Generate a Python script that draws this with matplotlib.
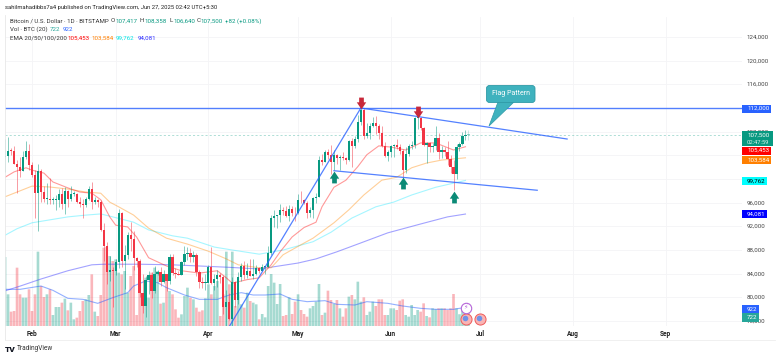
import numpy as np
import matplotlib
matplotlib.use('Agg')
import matplotlib.pyplot as plt
from matplotlib.patches import FancyBboxPatch, Polygon, Rectangle
from matplotlib.path import Path

plt.rcParams['font.family'] = ['Roboto', 'DejaVu Sans']

# daily candles, thousands of USD, Jan 23 -> Jun 26 2025 (first_day = days from Feb 1)
first_day = -9

opens = [103.7, 103.9, 104.8, 104.7, 102.6, 102.0, 101.3, 103.7, 104.7,
         102.4, 100.6, 97.7, 101.4, 97.8, 96.6, 96.6, 96.5, 96.5, 96.5, 97.4, 95.8, 97.9, 96.6,
         97.5, 97.5, 96.1, 95.8, 95.6, 96.6, 98.3, 96.1, 96.5, 96.1, 91.4, 88.7, 84.3, 84.7,
         84.4, 86.0, 94.2, 86.1, 87.2, 90.6, 89.9, 86.7, 86.1, 80.7, 78.5, 82.9, 83.7, 81.1, 83.9,
         84.3, 82.6, 84.0, 82.7, 86.8, 84.2, 84.0, 83.8, 86.0, 87.3, 87.5, 86.9, 87.2, 84.3, 82.6, 82.4,
         82.5, 85.2, 82.5, 83.1, 83.8, 83.5, 78.4, 79.2, 76.3, 82.6, 79.6, 83.4, 85.3, 83.7, 84.5,
         83.6, 84.0, 84.9, 84.5, 85.1, 85.2, 87.5, 93.4, 93.7, 93.9, 94.7, 94.6, 93.8, 94.9, 94.3,
         94.2, 96.5, 96.4, 95.9, 94.3, 94.7, 96.8, 97.0, 103.2, 102.9, 104.6, 104.1, 102.8, 104.1, 103.5,
         103.7, 103.5, 103.2, 106.4, 105.6, 106.8, 109.6, 111.7, 107.3, 107.8, 109.0, 109.4, 109.0, 107.8, 105.6, 103.9,
         104.6, 105.6, 105.8, 105.4, 104.7, 101.5, 104.3, 105.6, 105.7, 110.3, 110.3, 108.6, 105.7, 106.1,
         105.4, 105.5, 106.9, 104.6, 104.9, 104.6, 103.3, 102.1, 100.9, 105.4, 106.0, 107.3, 107.417]
highs = [106.8, 107.1, 105.3, 105.5, 103.2, 103.7, 104.8, 106.4, 106.0,
         102.8, 101.5, 102.5, 101.7, 98.8, 99.3, 100.2, 96.9, 97.3, 98.3, 98.5, 98.7, 98.1, 98.8,
         97.9, 97.7, 97.0, 96.7, 97.0, 98.8, 99.5, 96.9, 96.7, 96.5, 92.5, 89.3, 87.0, 85.1,
         86.5, 95.0, 94.4, 88.9, 91.0, 92.8, 91.2, 86.8, 86.5, 84.0, 83.6, 84.4, 84.3, 85.3, 84.7,
         85.1, 84.7, 84.0, 87.4, 87.4, 85.0, 84.5, 86.1, 88.7, 88.5, 88.3, 87.9, 87.5, 84.6, 83.5, 83.9,
         85.5, 88.5, 83.9, 84.7, 84.2, 83.8, 81.2, 80.8, 83.5, 82.7, 84.3, 85.8, 86.1, 85.8, 86.5,
         86.4, 85.5, 85.1, 85.6, 85.3, 88.6, 93.9, 94.7, 94.0, 95.7, 95.3, 95.4, 95.6, 95.4, 95.2,
         97.4, 97.9, 96.6, 96.3, 95.2, 96.9, 97.7, 103.9, 104.3, 104.9, 105.0, 105.7, 104.9, 104.3, 104.0,
         104.5, 103.7, 106.6, 107.0, 107.3, 110.8, 112.0, 112.0, 109.5, 109.4, 110.4, 110.7, 109.3, 108.9, 106.3, 104.9,
         105.8, 105.9, 106.8, 106.0, 105.0, 105.4, 105.9, 106.4, 110.4, 110.5, 110.4, 108.8, 106.2, 106.2,
         106.1, 108.9, 107.7, 105.6, 105.4, 106.5, 104.0, 103.2, 106.0, 106.3, 108.0, 108.3, 108.358]
lows = [101.2, 102.8, 104.1, 102.5, 97.7, 100.3, 101.3, 103.3, 101.6,
        100.3, 93.4, 91.2, 96.2, 96.2, 95.7, 95.7, 95.7, 94.7, 95.3, 94.9, 94.1, 95.2, 96.3,
        97.2, 96.0, 95.2, 93.4, 95.2, 96.4, 94.9, 95.7, 95.3, 91.2, 86.1, 82.3, 82.8, 78.3,
        83.8, 85.0, 85.2, 81.4, 86.5, 87.8, 84.7, 85.2, 80.0, 77.4, 76.6, 80.6, 79.9, 80.8, 83.7,
        81.9, 82.5, 81.1, 82.3, 83.7, 83.2, 83.7, 83.7, 85.5, 86.3, 85.9, 85.9, 83.6, 81.6, 81.6, 81.3,
        82.4, 82.3, 81.2, 81.7, 82.4, 77.2, 74.5, 76.2, 74.7, 78.4, 78.9, 82.8, 83.1, 83.2, 83.6,
        83.1, 83.7, 84.1, 84.4, 83.9, 85.1, 87.1, 91.9, 91.7, 92.8, 93.9, 93.6, 92.9, 93.8, 92.9,
        94.1, 96.0, 95.7, 93.4, 93.5, 93.4, 95.9, 97.0, 102.3, 102.8, 103.4, 100.8, 101.5, 102.6, 101.5,
        103.2, 102.6, 103.1, 102.0, 105.2, 106.2, 109.2, 106.8, 106.9, 106.7, 108.8, 107.6, 106.8, 105.4, 103.7, 103.1,
        103.8, 103.7, 105.1, 104.2, 100.4, 101.1, 103.9, 105.1, 105.3, 108.4, 108.2, 105.6, 102.7, 104.5,
        104.5, 104.9, 103.4, 103.5, 103.9, 102.4, 101.0, 98.2, 100.0, 104.7, 105.8, 106.6, 106.64]
closes = [103.9, 104.8, 104.7, 102.6, 102.0, 101.3, 103.7, 104.7, 102.4,
          100.6, 97.7, 101.4, 97.8, 96.6, 96.6, 96.5, 96.5, 96.5, 97.4, 95.8, 97.9, 96.6, 97.5,
          97.5, 96.1, 95.8, 95.6, 96.6, 98.3, 96.1, 96.5, 96.1, 91.4, 88.7, 84.3, 84.7, 84.4,
          86.0, 94.2, 86.1, 87.2, 90.6, 89.9, 86.7, 86.1, 80.7, 78.5, 82.9, 83.7, 81.1, 83.9, 84.3,
          82.6, 84.0, 82.7, 86.8, 84.2, 84.0, 83.8, 86.0, 87.3, 87.5, 86.9, 87.2, 84.3, 82.6, 82.4, 82.5,
          85.2, 82.5, 83.1, 83.8, 83.5, 78.4, 79.2, 76.3, 82.6, 79.6, 83.4, 85.3, 83.7, 84.5, 83.6,
          84.0, 84.9, 84.5, 85.1, 85.2, 87.5, 93.4, 93.7, 93.9, 94.7, 94.6, 93.8, 94.9, 94.3, 94.2,
          96.5, 96.4, 95.9, 94.3, 94.7, 96.8, 97.0, 103.2, 102.9, 104.6, 104.1, 102.8, 104.1, 103.5, 103.7,
          103.5, 103.2, 106.4, 105.6, 106.8, 109.6, 111.7, 107.3, 107.8, 109.0, 109.4, 109.0, 107.8, 105.6, 103.9, 104.6,
          105.6, 105.8, 105.4, 104.7, 101.5, 104.3, 105.6, 105.7, 110.3, 110.3, 108.6, 105.7, 106.1, 105.4,
          105.5, 106.9, 104.6, 104.9, 104.6, 103.3, 102.1, 100.9, 105.4, 106.0, 107.3, 107.417, 107.5]
volumes = [3519, 1615, 731, 765, 2975, 1615, 1445, 1445, 1870,
           765, 1615, 3791, 2040, 1479, 1615, 1870, 561, 969, 969, 1190, 1394, 799, 1190,
           340, 425, 765, 1275, 1360, 1581, 2635, 731, 510, 1581, 3995, 4029, 3570, 3315,
           3400, 2720, 2635, 2805, 1700, 2550, 3060, 561, 2805, 1020, 2465, 1445, 2720, 2975, 2805,
           1139, 1190, 2550, 1785, 1615, 850, 425, 595, 1530, 1955, 1445, 1360, 935, 731, 799, 1411,
           2125, 1615, 2040, 2295, 510, 1615, 3791, 2125, 3791, 1020, 1615, 1105, 935, 1700, 1275,
           1190, 1105, 340, 612, 442, 2040, 2652, 2210, 1122, 2142, 510, 561, 1462, 612, 1241,
           1615, 816, 612, 476, 901, 1020, 1241, 2142, 561, 680, 1802, 1326, 1122, 1326, 901,
           476, 901, 1496, 1581, 1360, 2261, 1241, 1462, 561, 731, 1241, 1020, 1360, 1360, 561, 561,
           901, 901, 816, 1292, 1360, 561, 476, 1071, 561, 816, 731, 1156, 510, 442,
           901, 850, 901, 901, 901, 816, 901, 1632, 901, 600, 900, 800, 722]

# moving averages, days counted from Feb 1
ema20_days = [-9, -6, -2, 0, 4, 7, 12, 16, 20, 23, 26, 28, 32, 35, 39, 45, 50, 56, 62, 65, 67, 72, 76,
              80, 83, 87, 91, 95, 97, 101, 105, 109, 112, 116, 120, 125, 130, 135, 141, 145]
ema20 = [100.3, 101.2, 101.9, 101.5, 101.0, 99.5, 98.5, 97.8, 97.6, 96.5, 93.6, 92.2, 91.9, 90.2, 86.7,
         85.3, 84.5, 84.1, 84.5, 83.3, 82.4, 83.0, 83.3, 85.5, 87.7, 90.2, 91.8, 92.7, 95.3, 98.6, 99.8,
         102.1, 104.1, 105.6, 105.4, 104.9, 106.1, 106.1, 104.9, 105.453]
ema50_days = [-9, -5, 0, 6, 12, 18, 23, 26, 29, 34, 39, 45, 52, 59, 65, 69, 76, 80, 84, 90, 94, 101, 106,
              111, 117, 122, 127, 132, 137, 145]
ema50 = [97.0, 97.8, 98.8, 98.65, 98.3, 97.8, 97.6, 96.1, 95.3, 93.9, 91.7, 90.0, 89.0, 87.8, 86.5, 85.5,
         85.0, 85.0, 87.2, 88.9, 90.0, 92.6, 94.8, 97.3, 99.8, 100.3, 101.9, 102.7, 103.2, 103.584]
ema100_days = [-9, -5, 0, 6, 12, 18, 23, 27, 34, 39, 47, 52, 61, 67, 76, 84, 94, 100, 107, 115, 121, 127,
               135, 145]
ema100 = [90.5, 91.6, 92.6, 93.1, 93.6, 93.9, 94.1, 93.6, 92.7, 91.4, 90.4, 90.0, 88.5, 88.0, 87.3, 88.0,
          89.4, 91.0, 93.4, 95.3, 96.1, 97.3, 98.6, 99.762]
ema200_days = [-9, -4, 3, 12, 20, 24, 36, 47, 56, 65, 76, 80, 89, 95, 102, 110, 119, 130, 139, 145]
ema200 = [81.1, 81.9, 83.1, 84.5, 85.5, 85.6, 85.6, 85.5, 85.3, 85.1, 84.8, 85.1, 85.8, 86.5, 87.7, 89.2,
          90.9, 92.4, 93.6, 94.081]
vol_ma_days = [-9, -4, 3, 7, 12, 17, 22, 27, 32, 34, 38, 42, 45, 51, 56, 62, 66, 70, 74, 78, 83, 87, 92,
               98, 102, 108, 112, 119, 124, 130, 135, 141, 143, 145]
vol_ma = [1870, 1870, 2040, 1819, 1411, 1360, 1156, 1445, 1700, 2040, 2295, 2210, 1955, 1581, 1360, 1360,
          1581, 1700, 1581, 1581, 1632, 1360, 1241, 1292, 1105, 1071, 1241, 1156, 1020, 901, 850, 850, 901, 922]

# drawn trend lines (day, price)
rally_x, rally_y = [66.1, 110], [75.16, 112.0]
flag_top_x, flag_top_y = [110, 179], [112.0, 106.76]
flag_bottom_x, flag_bottom_y = [101, 169], [101.4, 98.1]
resistance = 112.0

red_arrow_x, red_arrow_y = [110, 129], [112.9, 111.3]
green_arrow_x, green_arrow_y = [101, 124, 141], [100.3, 99.3, 97.0]

month_days = [0, 28, 59, 89, 120, 150, 181, 212]
month_labels = ['Feb', 'Mar', 'Apr', 'May', 'Jun', 'Jul', 'Aug', 'Sep']
price_ticks = [76, 80, 84, 88, 92, 96, 108, 116, 120, 124]
grid_prices = [76, 80, 84, 88, 92, 96, 100, 104, 108, 112, 116, 120, 124]

UP = '#089981'
DOWN = '#f23645'
LINE_BLUE = '#2962ff'
W, H = 780, 358
TXT = 4.4


def px(x, y):
    return x / W, 1 - y / H


fig = plt.figure(figsize=(W / 100, H / 100), dpi=100)
ax = fig.add_axes([5 / W, 1 - 326 / H, 737 / W, 309 / H])
ax.set_xlim(-9.03, 237.5)
ax.set_ylim(75.16, 127.38)

days = np.arange(len(closes)) + first_day
o, h, l, c = map(np.array, (opens, highs, lows, closes))
colors = np.where(c >= o, UP, DOWN)

# volume is scaled into the price pane, 51 BTC per pixel
vol_scale = 0.169 / 51
vol_bars = ax.bar(days, np.array(volumes) * vol_scale, bottom=75.16, width=0.88, color=colors, alpha=0.36,
                  zorder=2, lw=0)
for b in vol_bars:
    b.set_snap(False)
ax.plot(vol_ma_days, np.array(vol_ma) * vol_scale + 75.16, color=LINE_BLUE, lw=0.8, alpha=0.5, zorder=3)

ax.plot(ema200_days, ema200, color='#3333ff', lw=0.8, alpha=0.45, zorder=3)
ax.plot(ema100_days, ema100, color='#00e5ff', lw=0.8, alpha=0.35, zorder=3)
ax.plot(ema50_days, ema50, color='#ff8800', lw=0.8, alpha=0.4, zorder=3)
ax.plot(ema20_days, ema20, color='#ff0000', lw=0.8, alpha=0.4, zorder=3)

# last candle is still forming and shows lighter
alpha = np.ones(len(c))
alpha[-1] = 0.4
for d, op, hi, lo, cl, col, al in zip(days, o, h, l, c, colors, alpha):
    ax.vlines(d, lo, hi, color=col, lw=0.7, alpha=0.5 * al, zorder=4)
    ax.bar(d, max(abs(cl - op), 0.12), bottom=min(op, cl), width=0.75, color=col, alpha=al, lw=0, zorder=5)

ax.plot(rally_x, rally_y, color=LINE_BLUE, lw=0.9, alpha=0.8, zorder=6)
ax.plot(flag_top_x, flag_top_y, color=LINE_BLUE, lw=0.9, alpha=0.8, zorder=6)
ax.plot(flag_bottom_x, flag_bottom_y, color=LINE_BLUE, lw=0.9, alpha=0.8, zorder=6)
ax.axhline(resistance, color=LINE_BLUE, lw=1.0, alpha=0.8, zorder=6)
ax.axhline(closes[-1], color=UP, lw=0.5, ls=(0, (3, 3)), alpha=0.45, zorder=1)

# block arrows
down_arrow = Path([(-0.4, 1), (0.4, 1), (0.4, 0.2), (0.8, 0.2), (0, -1), (-0.8, 0.2), (-0.4, 0.2), (-0.4, 1)], closed=True)
up_arrow = Path([(-0.4, -1), (0.4, -1), (0.4, -0.2), (0.8, -0.2), (0, 1), (-0.8, -0.2), (-0.4, -0.2), (-0.4, -1)], closed=True)
ax.plot(red_arrow_x, red_arrow_y, ls='', marker=down_arrow, ms=8.5, color='#c8283a', mew=0, zorder=8)
ax.plot(green_arrow_x, green_arrow_y, ls='', marker=up_arrow, ms=8.5, color='#0b8a76', mew=0, zorder=8)

# axes look
for s in ax.spines.values():
    s.set_visible(False)
ax.set_yticks(grid_prices)
ax.set_yticklabels([])
ax.set_xticks(month_days)
ax.set_xticklabels(month_labels, fontsize=TXT + 0.3, color='#222222', fontweight='bold')
ax.tick_params(length=0, pad=2.8)
ax.yaxis.set_ticks_position('right')
ax.grid(True, color='#f4f4f6', lw=0.6, zorder=0)
ax.set_axisbelow(True)

# pane border
fig.add_artist(plt.Line2D([5 / W, 5 / W], [1 - 340 / H, 1 - 15 / H], color='#e8e8e8', lw=0.6))
fig.add_artist(plt.Line2D([5 / W, 775 / W], [1 - 340 / H, 1 - 340 / H], color='#eeeeee', lw=0.6))

# price axis labels
ytrans = ax.get_yaxis_transform()
for p in price_ticks:
    ax.text((746.5 - 5) / 737, p, f'{p},000', transform=ytrans, fontsize=TXT, color='#444444',
            va='center', ha='left', clip_on=False, zorder=9)

# value tags, pushed apart on the axis as in the source: centre y px, label, fill, text, right edge
tags = [(108.5, '112,000', LINE_BLUE, 'white', 771),
        (150.5, '105,453', '#ff0000', 'white', 771),
        (159.7, '103,584', '#ff7f00', 'white', 771),
        (181, '99,762', '#00ffff', 'black', 767),
        (214, '94,081', '#0000ff', 'white', 767)]
for ypx, label, bg, fg, right in tags:
    x0, y0 = px(742, ypx + 4)
    fig.add_artist(Rectangle((x0, y0), (right - 742) / W, 8 / H, transform=fig.transFigure, color=bg, lw=0, zorder=10))
    fig.text(747 / W, 1 - ypx / H, label, color=fg, fontsize=TXT, va='center', zorder=11)

# current price tag
x0, y0 = px(742, 146)
fig.add_artist(Rectangle((x0, y0), 31 / W, 15 / H, transform=fig.transFigure, color=UP, lw=0, zorder=10))
fig.text(747 / W, 1 - 134.7 / H, '107,500', color='white', fontsize=TXT, va='center', zorder=11)
fig.text(747 / W, 1 - 142.2 / H, '02:47:59', color='#d5efe9', fontsize=TXT - 0.2, va='center', zorder=11)

# volume tags
for top, label, bg in [(305, '922', LINE_BLUE), (313.3, '722', '#26a69a')]:
    x0, y0 = px(742, top + 8.4)
    fig.add_artist(Rectangle((x0, y0), 16.7 / W, 8.4 / H, transform=fig.transFigure, color=bg, lw=0, zorder=10))
    fig.text(746.5 / W, 1 - (top + 4.2) / H, label, color='white', fontsize=TXT, va='center', zorder=11)

# callout
box = FancyBboxPatch(px(486.5, 102.5), 48.5 / W, 17 / H, boxstyle='round,pad=0,rounding_size=0.004',
                     transform=fig.transFigure, fc='#3fb2be', ec='#2f9aa6', lw=0.6, zorder=12, mutation_aspect=2)
fig.add_artist(box)
tail = Polygon([px(498, 102), px(514, 102), px(489, 126)], closed=True, transform=fig.transFigure,
               fc='#3fb2be', ec='#2f9aa6', lw=0.5, zorder=11)
fig.add_artist(tail)
fig.text(510.5 / W, 1 - 93.5 / H, 'Flag Pattern', color='white', fontsize=5, ha='center', va='center', zorder=13)

# event icons near the last bar
for ix, iy in [(466, 319), (480, 319)]:
    ax.plot((ix - 32) / 2.99, 124 - (iy - 37) * 0.169, marker='o', ms=8, mfc='#f9b4b4', mec='#ee5a5a',
            mew=0.7, zorder=7, clip_on=False)
    ax.plot((ix - 33) / 2.99, 124 - (iy - 38.5) * 0.169, marker='o', ms=4, mfc='#6d93e8', mew=0, zorder=7)
ax.plot((466 - 32) / 2.99, 124 - (307.5 - 37) * 0.169, marker='o', ms=7.5, mfc='white', mec='#b565d8', mew=0.8, zorder=7)
ax.text((466 - 32) / 2.99, 124 - (307.5 - 37) * 0.169, '⚡', fontsize=4.5, color='#b565d8', ha='center', va='center',
        family='DejaVu Sans', zorder=8)

# header
HEAD = '#333333'
fig.text(5 / W, 1 - 8 / H, 'sahilmahadibbs7a4 published on TradingView.com, Jun 27, 2025 02:42 UTC+5:30',
         fontsize=4.25, color='#222222', va='center')
legend_rows = [
    (21, [(9.5, 'Bitcoin / U.S. Dollar · 1D · BITSTAMP', HEAD), (111, 'O', HEAD), (115.5, '107,417', UP),
          (140, 'H', HEAD), (144.5, '108,358', UP), (169, 'L', HEAD), (173, '106,640', UP), (197, 'C', HEAD),
          (200.5, '107,500', UP), (225, '+82 (+0.08%)', UP)]),
    (29.5, [(9.5, 'Vol · BTC (20)', HEAD), (50, '722', '#26a69a'), (63, '922', LINE_BLUE)]),
    (38, [(9.5, 'EMA 20/50/100/200', HEAD), (67, '105,453', '#ff0000'), (91.5, '103,584', '#ff7f00'),
          (116, '99,762', '#00e5e5'), (138, '94,081', '#2a2aff')]),
]
for y, parts in legend_rows:
    for x, text, col in parts:
        fig.text(x / W, 1 - y / H, text, fontsize=TXT, color=col, va='center')

# logo
fig.text(5 / W, 1 - 349 / H, 'TV', fontsize=6, fontweight='black', color='#131722', va='center')
fig.text(17 / W, 1 - 349 / H, 'TradingView', fontsize=4.7, color='#333333', va='center')

fig.savefig('out.png', dpi=100)
